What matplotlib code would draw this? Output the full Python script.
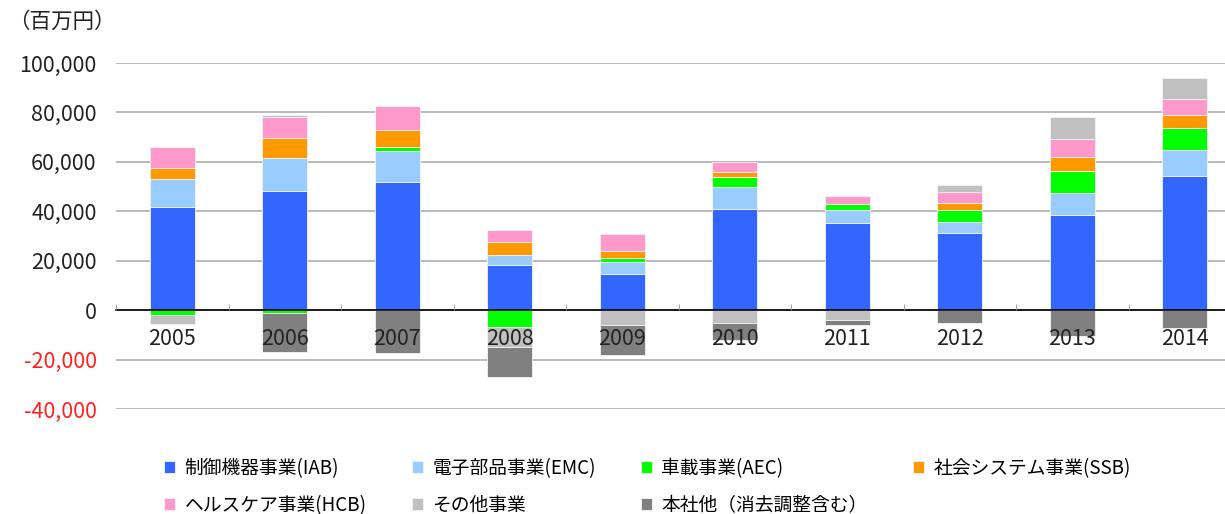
import matplotlib
matplotlib.use("Agg")
import matplotlib.pyplot as plt
import numpy as np
from matplotlib.ticker import FuncFormatter, MultipleLocator, FixedLocator

plt.rcParams['font.family'] = ['Noto Sans CJK JP', 'DejaVu Sans']
plt.rcParams['axes.unicode_minus'] = False

# 単位: 百万円
years = ['2005', '2006', '2007', '2008', '2009', '2010', '2011', '2012', '2013', '2014']
iab = [41900, 48400, 52000, 18100, 14700, 41100, 35300, 31300, 38600, 54400]
emc = [11200, 13300, 12500, 4400, 4800, 8900, 5200, 4400, 8800, 10300]
aec = [-2000, -1300, 1400, -7000, 1500, 4000, 2600, 4800, 9000, 9200]
ssb = [4400, 8100, 7100, 5100, 2900, 1800, 0, 3000, 5500, 4900]
hcb = [8600, 8400, 9500, 4800, 6900, 4300, 3100, 4400, 7500, 6600]
other = [-3600, 700, 0, -7800, -6000, -5000, -3800, 2600, 8900, 8600]
hq = [0, -15600, -17500, -12400, -12000, -7100, -2400, -5400, -10500, -7400]

series = [iab, emc, aec, ssb, hcb, other, hq]
labels = ['制御機器事業(IAB)', '電子部品事業(EMC)', '車載事業(AEC)', '社会システム事業(SSB)',
          'ヘルスケア事業(HCB)', 'その他事業', '本社他（消去調整含む）']
colors = ['#3366FF', '#99CCFF', '#00FF00', '#FF9900', '#FF99CC', '#C0C0C0', '#808080']

fig = plt.figure(figsize=(12.25, 5.14), dpi=100)
ax = fig.add_axes([116 / 1225, 105 / 514, 1125 / 1225, 346 / 514])

x = np.arange(len(years))
pos_base = np.zeros(len(years))
neg_base = np.zeros(len(years))
handles = []
for vals, lab, col in zip(series, labels, colors):
    v = np.array(vals, dtype=float)
    bottom = np.where(v >= 0, pos_base, neg_base)
    b = ax.bar(x, v, 0.4, bottom=bottom, color=col, label=lab,
               edgecolor='#f4f4f4', linewidth=0.6, zorder=2)
    handles.append(b)
    pos_base = pos_base + np.where(v > 0, v, 0)
    neg_base = neg_base + np.where(v < 0, v, 0)

ax.set_xlim(-0.5, len(years) - 0.5)
ax.set_ylim(-40000, 100000)
ax.yaxis.set_major_locator(MultipleLocator(20000))
ax.yaxis.set_major_formatter(FuncFormatter(lambda v, p: f'{int(v):,}'))
ax.grid(axis='y', color='#b4b4b4', linewidth=1.3)
ax.set_axisbelow(True)
ax.xaxis.set_zorder(3)

for s in ['top', 'right', 'left']:
    ax.spines[s].set_visible(False)
ax.spines['bottom'].set_position(('data', 0))
ax.spines['bottom'].set_color('black')
ax.spines['bottom'].set_linewidth(1.2)
ax.spines['bottom'].set_zorder(3)

ax.set_xticks(x)
ax.set_xticklabels(years)
ax.xaxis.set_minor_locator(FixedLocator(np.arange(-0.5, len(years), 1)))
ax.tick_params(axis='x', which='major', length=0, pad=13, labelsize=15.5, labelcolor='#222222')
ax.tick_params(axis='x', which='minor', direction='in', length=4.5, color='#999999')
ax.tick_params(axis='y', length=0, pad=14, labelsize=15.5, labelcolor='#222222')
for t, v in zip(ax.get_yticklabels(), ax.get_yticks()):
    if v < 0:
        t.set_color('#FF2020')

fig.text(8 / 1225, 1 - 22 / 514, '（百万円）', fontsize=15.5, va='center', ha='left', color='#222222')

# 行方向に並べるため列ごとの順に並べ替え
order = [0, 4, 1, 5, 2, 6, 3]
fig.legend(handles=[handles[i] for i in order], labels=[labels[i] for i in order],
           loc='upper left', bbox_to_anchor=(147 / 1225, 1 - 441 / 514),
           ncol=4, frameon=False, fontsize=13.5, handlelength=0.6, handleheight=0.6,
           handletextpad=0.5, columnspacing=2.4, labelspacing=0.85)

fig.savefig('out.png', dpi=100)
